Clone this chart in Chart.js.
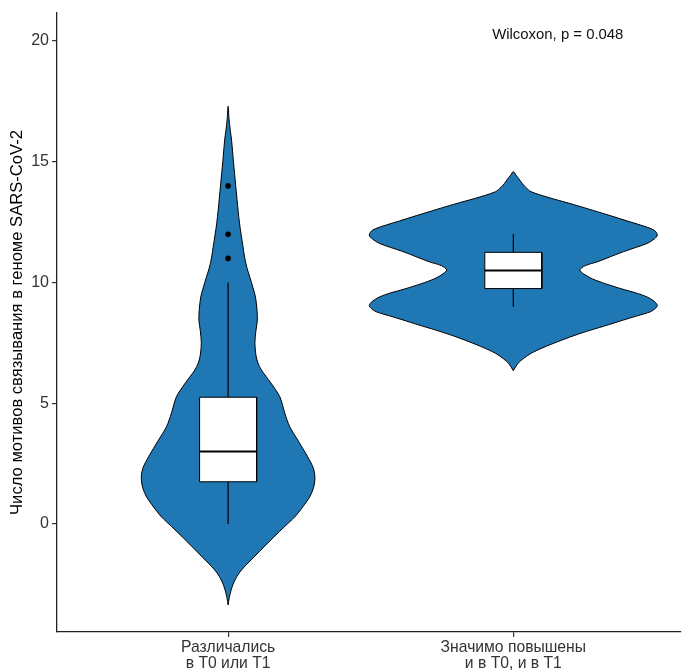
<!DOCTYPE html>
<html>
<head>
<meta charset="utf-8">
<script src="https://cdn.jsdelivr.net/npm/chart.js@4.4.1/dist/chart.umd.min.js"></script>
<style>
  html, body { margin: 0; padding: 0; background: #fff; }
  canvas { display: block; }
</style>
</head>
<body>
<canvas id="chart" width="685" height="671"></canvas>
<script>
// Groups on the x axis (two-line labels)
const categories = [
  ["Различались", "в Т0 или Т1"],
  ["Значимо повышены", "и в Т0, и в Т1"]
];
const yTicks = [0, 5, 10, 15, 20];
const yTitle = "Число мотивов связывания в геноме SARS-CoV-2";
const testLabel = "Wilcoxon, p = 0.048";

// Box-plot statistics per group
const q1 = [1.75, 9.75];
const median = [3, 10.5];
const q3 = [5.25, 11.25];
const whiskerLow = [0, 9];
const whiskerHigh = [10, 12];
const outliers = [[11, 12, 14], []];

// Kernel density profiles (relative width, 1 = widest) along y
const violinY1 = [-3.35, -3.05, -2.73, -2.4, -2.03, -1.7, -1.37, -0.95, -0.54, -0.1, 0.29, 0.7, 1.12, 1.5, 1.9, 2.3, 2.79, 3.48, 4.03, 4.6, 5.27, 5.84, 6.38, 6.67, 7.0, 7.5, 8.0, 8.45, 8.9, 9.4, 9.8, 10.2, 10.6, 11.06, 11.5, 12.0, 12.46, 13.0, 14.0, 15.0, 15.9, 16.3, 16.8, 17.3];
const violinD1 = [0, 0.008, 0.021, 0.041, 0.076, 0.124, 0.179, 0.248, 0.317, 0.393, 0.462, 0.517, 0.566, 0.593, 0.603, 0.593, 0.552, 0.483, 0.428, 0.393, 0.359, 0.297, 0.231, 0.207, 0.193, 0.186, 0.193, 0.203, 0.200, 0.190, 0.172, 0.152, 0.131, 0.114, 0.103, 0.090, 0.079, 0.069, 0.053, 0.037, 0.024, 0.015, 0.006, 0];
const violinY2 = [6.35, 6.65, 6.85, 7.07, 7.3, 7.55, 7.8, 8.03, 8.25, 8.45, 8.62, 8.79, 8.92, 9.05, 9.22, 9.4, 9.55, 9.75, 9.95, 10.15, 10.35, 10.52, 10.7, 10.86, 11.07, 11.28, 11.46, 11.62, 11.8, 11.97, 12.17, 12.38, 12.55, 12.72, 12.93, 13.14, 13.32, 13.49, 13.76, 13.95, 14.1, 14.3, 14.45, 14.59];
const violinD2 = [0, 0.032, 0.07, 0.124, 0.205, 0.308, 0.42, 0.538, 0.66, 0.766, 0.86, 0.952, 0.985, 1, 0.979, 0.93, 0.862, 0.745, 0.64, 0.55, 0.49, 0.462, 0.5, 0.584, 0.675, 0.766, 0.855, 0.929, 0.978, 1, 0.977, 0.883, 0.79, 0.70, 0.585, 0.469, 0.365, 0.262, 0.124, 0.085, 0.062, 0.038, 0.018, 0];

const violinY = [violinY1, violinY2];
const violinD = [violinD1, violinD2];

const VIOLIN_HALF = 0.505;   // half width of the widest violin, in x units
const BOX_HALF = 0.1;        // half width of a box
const FILL = "#1F77B4";

Chart.defaults.font.family = '"Liberation Sans", Arial, sans-serif';

function violinOutline(i) {
  const c = i + 1, ys = violinY[i], ds = violinD[i];
  const pts = [];
  for (let k = 0; k < ys.length; k++) pts.push({ x: c - ds[k] * VIOLIN_HALF, y: ys[k] });
  for (let k = ys.length - 2; k >= 0; k--) pts.push({ x: c + ds[k] * VIOLIN_HALF, y: ys[k] });
  return pts;
}

const datasets = [];
categories.forEach((_, i) => {
  const c = i + 1;
  datasets.push({
    data: violinOutline(i), fill: "shape", backgroundColor: FILL,
    borderColor: "#000", borderWidth: 1, tension: 0.3, pointRadius: 0, order: 5
  });
  datasets.push({
    data: [{ x: c, y: q3[i] }, { x: c, y: whiskerHigh[i] }],
    borderColor: "#000", borderWidth: 1.2, pointRadius: 0, fill: false, order: 3
  });
  datasets.push({
    data: [{ x: c, y: whiskerLow[i] }, { x: c, y: q1[i] }],
    borderColor: "#000", borderWidth: 1.2, pointRadius: 0, fill: false, order: 3
  });
  datasets.push({
    data: [
      { x: c - BOX_HALF, y: q1[i] }, { x: c - BOX_HALF, y: q3[i] },
      { x: c + BOX_HALF, y: q3[i] }, { x: c + BOX_HALF, y: q1[i] },
      { x: c - BOX_HALF, y: q1[i] }
    ],
    fill: "shape", backgroundColor: "#fff", borderColor: "#000", borderWidth: 1,
    tension: 0, pointRadius: 0, order: 2
  });
  datasets.push({
    data: [{ x: c - BOX_HALF, y: median[i] }, { x: c + BOX_HALF, y: median[i] }],
    borderColor: "#000", borderWidth: 2, pointRadius: 0, fill: false, order: 1
  });
  if (outliers[i].length) {
    datasets.push({
      data: outliers[i].map(v => ({ x: c, y: v })),
      showLine: false, pointRadius: 2.8, pointBackgroundColor: "#000",
      pointBorderWidth: 0, order: 0
    });
  }
});

const testLabelPlugin = {
  id: "testLabel",
  afterDatasetsDraw(chart) {
    const { ctx, scales: { x, y } } = chart;
    ctx.save();
    ctx.font = '14.9px "Liberation Sans", Arial, sans-serif';
    ctx.fillStyle = "#111";
    ctx.textAlign = "center";
    ctx.textBaseline = "alphabetic";
    ctx.fillText(testLabel, x.getPixelForValue(2.156), y.getPixelForValue(20.1));
    ctx.restore();
  }
};

const axisGrid = { display: true, drawOnChartArea: false, drawTicks: true, tickLength: 5, color: "#333", lineWidth: 1.2 };
const axisBorder = { display: true, color: "#222", width: 1.3 };

new Chart(document.getElementById("chart"), {
  type: "line",
  data: { datasets },
  options: {
    responsive: false,
    animation: false,
    layout: { padding: { top: 13, right: 0, left: 0, bottom: 0 } },
    plugins: { legend: { display: false }, tooltip: { enabled: false } },
    scales: {
      x: {
        type: "linear", min: 0.4, max: 2.588,
        afterBuildTicks: s => { s.ticks = categories.map((_, i) => ({ value: i + 1 })); },
        afterFit: s => { s.height = 39; },
        ticks: {
          callback: v => categories[Math.round(v) - 1],
          font: { size: 15.7, lineHeight: 1.02 }, color: "#333", maxRotation: 0, padding: 3
        },
        grid: axisGrid, border: axisBorder
      },
      y: {
        type: "linear", min: -4.47, max: 21.16,
        afterBuildTicks: s => { s.ticks = yTicks.map(v => ({ value: v })); },
        afterFit: s => { s.width = 57; },
        ticks: { font: { size: 16 }, color: "#333", padding: 3 },
        title: { display: true, text: yTitle, font: { size: 16.6 }, color: "#000", padding: { top: 7, bottom: 0 } },
        grid: axisGrid, border: axisBorder
      }
    }
  },
  plugins: [testLabelPlugin]
});
</script>
</body>
</html>
